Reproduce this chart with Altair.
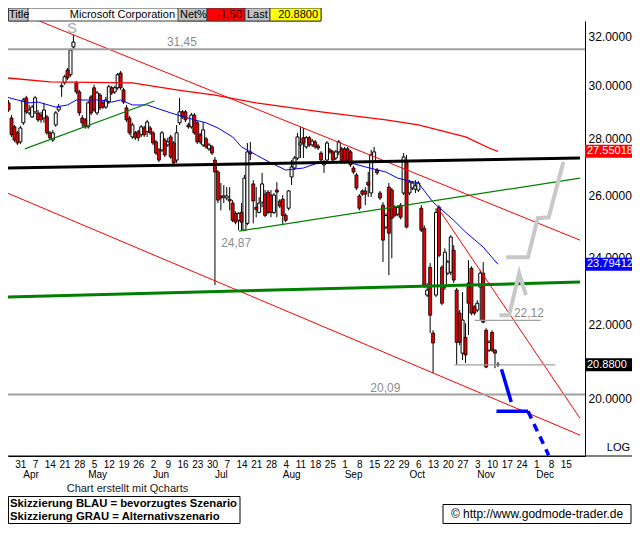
import json
import altair as alt
import pandas as pd

FONT = "Liberation Sans, Arial, Helvetica, sans-serif"

# ---------------- data ----------------
FIRST_INDEX = -4   # trading-day index; 0 = Mon 31 Mar 2008

opens = [29.34, 28.77, 28.44, 28.22, 27.89, 28.59, 29.53, 28.96, 28.81, 29.00,
         28.96, 28.88, 28.77, 28.81, 28.22, 27.96, 28.51, 29.07, 29.96, 30.11,
         30.62, 30.43, 31.55, 30.11, 29.76, 28.77, 28.70, 28.44, 29.57, 29.92,
         28.96, 29.64, 29.34, 29.18, 29.37, 29.92, 29.76, 29.92, 30.50, 29.84,
         29.15, 28.77, 28.07, 28.22, 28.26, 28.15, 28.40, 28.26, 28.40, 28.22,
         27.89, 27.60, 27.60, 27.96, 27.78, 28.07, 27.85, 27.24, 28.59, 29.00,
         29.00, 28.51, 28.44, 28.88, 28.59, 28.15, 27.78, 28.00, 27.64, 27.71,
         27.24, 26.82, 26.00, 25.96, 25.93, 25.89, 25.76, 25.42, 25.19, 25.45,
         24.87, 25.09, 27.53, 26.41, 25.62, 25.45, 25.79, 26.06, 26.13, 26.03,
         25.45, 26.20, 25.83, 25.89, 25.35, 25.59, 26.65, 26.96, 27.31, 27.78,
         28.04, 27.71, 28.04, 27.78, 27.89, 27.74, 27.49, 27.07, 27.24, 27.60,
         27.53, 27.31, 27.53, 27.64, 27.64, 27.64, 27.53, 26.96, 26.72, 26.00,
         26.17, 26.17, 26.47, 26.10, 27.17, 26.89, 26.10, 25.69, 24.97, 26.30,
         26.20, 25.62, 25.39, 25.69, 26.10, 27.17, 26.10, 26.27, 26.23, 26.20,
         25.59, 24.93, 22.86, 23.70, 21.76, 22.86, 25.62, 23.70, 23.10, 23.52,
         23.55, 24.23, 23.01, 22.33, 21.20, 21.64, 23.22, 23.67, 22.51, 22.42,
         23.10, 23.52, 21.84, 21.28, 21.78, 21.28, 20.90]

highs = [29.45, 28.88, 28.51, 28.29, 28.48, 29.53, 29.61, 29.26, 29.26, 29.61,
         29.07, 29.00, 29.34, 28.88, 28.29, 28.33, 29.03, 29.30, 30.11, 30.43,
         30.70, 31.50, 32.04, 30.19, 29.84, 28.88, 28.77, 29.41, 29.64, 30.04,
         29.80, 29.72, 29.45, 29.57, 30.04, 30.00, 30.00, 30.50, 30.58, 29.92,
         29.26, 28.85, 28.59, 28.29, 28.33, 28.51, 28.48, 28.70, 28.48, 28.29,
         27.96, 27.67, 28.29, 28.04, 28.04, 28.15, 27.92, 28.51, 29.53, 29.07,
         29.07, 28.59, 28.96, 28.96, 28.66, 28.22, 28.62, 28.07, 27.85, 27.78,
         27.35, 26.89, 26.44, 26.37, 26.30, 26.30, 25.86, 25.49, 25.45, 25.76,
         26.72, 27.85, 27.89, 26.54, 26.30, 25.96, 26.79, 26.20, 26.20, 26.20,
         26.10, 26.47, 25.89, 26.03, 25.42, 26.20, 27.24, 27.38, 28.22, 28.44,
         28.40, 28.11, 28.11, 28.00, 27.96, 27.81, 27.56, 27.24, 27.92, 27.67,
         27.60, 27.60, 27.96, 27.71, 27.71, 27.71, 27.60, 27.03, 26.79, 26.06,
         26.23, 26.30, 26.82, 27.60, 27.71, 26.96, 26.17, 25.79, 25.42, 26.44,
         26.27, 25.69, 25.69, 25.76, 27.49, 27.42, 26.54, 26.51, 26.54, 26.51,
         25.69, 25.03, 23.22, 23.83, 21.84, 25.59, 25.69, 23.76, 24.29, 23.92,
         24.71, 24.39, 23.07, 22.42, 22.95, 22.04, 23.92, 23.73, 22.56, 22.71,
         23.61, 23.86, 21.90, 21.56, 21.84, 21.31, 20.96]

lows = [29.00, 28.07, 27.89, 27.78, 27.81, 28.51, 28.92, 28.88, 28.77, 28.92,
        28.62, 28.59, 28.59, 28.15, 27.96, 27.89, 28.44, 29.00, 29.57, 30.04,
        30.23, 30.35, 31.42, 29.68, 28.85, 28.44, 28.37, 28.37, 28.88, 29.00,
        28.88, 29.07, 29.11, 29.11, 29.30, 29.64, 29.68, 29.84, 29.84, 29.30,
        28.62, 28.15, 28.00, 27.96, 27.92, 28.07, 28.07, 28.07, 28.15, 27.78,
        27.42, 27.17, 27.53, 27.35, 27.71, 27.28, 27.07, 27.14, 28.51, 28.74,
        28.62, 28.37, 28.37, 28.15, 27.81, 27.81, 27.71, 27.64, 27.56, 27.42,
        23.16, 25.76, 25.52, 25.76, 25.86, 25.52, 25.13, 25.06, 24.87, 24.87,
        24.84, 25.03, 27.24, 25.09, 25.29, 25.42, 25.62, 25.29, 25.39, 25.29,
        25.39, 25.29, 25.59, 25.03, 25.13, 25.52, 26.37, 26.89, 27.24, 27.31,
        27.31, 27.64, 27.71, 27.71, 27.64, 27.60, 27.17, 26.79, 27.17, 27.46,
        27.17, 27.24, 27.42, 27.10, 27.10, 27.17, 27.00, 26.75, 26.20, 25.52,
        26.00, 25.69, 25.96, 25.96, 27.14, 26.72, 25.86, 23.86, 24.90, 23.46,
        23.98, 25.29, 25.32, 25.22, 26.03, 24.93, 26.03, 26.20, 26.10, 26.13,
        24.81, 23.07, 22.80, 21.76, 20.66, 22.80, 24.01, 22.56, 23.01, 23.46,
        23.46, 23.22, 20.88, 21.42, 21.01, 20.93, 21.70, 22.27, 22.27, 22.36,
        22.13, 22.04, 20.79, 21.23, 21.23, 20.79, 20.82]

closes = [29.07, 28.15, 27.96, 27.85, 28.40, 29.45, 29.00, 29.07, 29.18, 29.53,
          28.70, 28.70, 29.07, 28.22, 28.04, 28.22, 28.96, 29.18, 30.00, 30.35,
          30.31, 31.42, 31.75, 29.76, 28.96, 28.59, 28.44, 29.34, 28.96, 29.07,
          29.72, 29.15, 29.18, 29.45, 29.96, 29.72, 29.92, 30.43, 29.92, 29.37,
          28.70, 28.22, 28.51, 28.04, 28.04, 28.44, 28.15, 28.62, 28.22, 27.85,
          27.49, 27.24, 28.22, 27.42, 27.89, 27.35, 27.14, 28.22, 29.00, 28.81,
          28.70, 28.44, 28.88, 28.22, 27.89, 27.89, 28.33, 27.71, 27.78, 27.49,
          26.82, 25.86, 25.93, 26.00, 26.00, 25.83, 25.19, 25.13, 25.42, 25.13,
          26.61, 27.53, 27.46, 25.83, 25.55, 25.76, 26.41, 25.35, 25.45, 25.45,
          26.03, 26.13, 25.66, 25.35, 25.19, 26.17, 27.00, 27.31, 28.07, 27.85,
          27.85, 28.04, 27.78, 27.92, 27.71, 27.67, 27.24, 27.17, 27.85, 27.53,
          27.24, 27.53, 27.89, 27.17, 27.17, 27.24, 27.07, 26.82, 26.27, 25.59,
          26.06, 26.06, 26.37, 27.42, 27.53, 26.79, 25.93, 24.55, 25.35, 24.77,
          25.26, 25.35, 25.62, 25.29, 27.35, 24.97, 26.47, 26.44, 26.34, 26.44,
          24.87, 23.16, 23.01, 22.27, 21.48, 25.45, 24.07, 22.62, 24.17, 23.86,
          24.65, 23.31, 21.50, 21.50, 22.13, 21.15, 22.62, 22.33, 22.33, 22.62,
          23.52, 22.07, 20.82, 21.50, 21.28, 21.20, 20.88]

# moving averages (index, value)
red_ma_index = [-5, 10, 38, 53, 66, 80, 102, 124, 135, 151, 159, 162]
red_ma_values = [30.31, 30.15, 30.11, 29.84, 29.64, 29.34, 29.00, 28.70, 28.51, 28.07, 27.67, 27.55018]

blue_ma_index = [-5, -1, 3, 6, 12, 16, 19, 27, 31, 34, 38, 43, 51, 59, 63, 67, 72, 75, 80,
                 85, 90, 96, 101, 107, 112, 117, 124, 128, 135, 140, 147, 151, 157, 162]
blue_ma_values = [29.57, 29.45, 29.34, 29.37, 29.18, 29.26, 29.45, 29.45, 29.37, 29.45,
                  29.26, 29.26, 28.96, 28.70, 28.59, 28.40, 28.07, 27.71, 27.42, 27.14,
                  26.89, 26.96, 27.14, 27.17, 27.14, 27.00, 26.82, 26.61, 26.44, 25.79,
                  25.19, 24.81, 24.33, 23.79412]

# trend lines: list of (index, price) end points
red_trend = [[(1.5, 32.88), (189.83, 24.55)],
             [(-5.17, 26.13), (189.83, 19.06)],
             [(141.5, 25.62), (189.83, 19.48)]]
green_thin_trend = [[(1.5, 27.64), (45.5, 29.41)],
                    [(74.2, 24.84), (189.83, 26.61)]]
black_trend = [[(-5.17, 26.96), (189.83, 27.31)]]
green_thick_trend = [[(-5.17, 22.80), (189.83, 23.25)]]

# scenario sketches
blue_solid = [[(163.2, 20.76), (166.5, 19.90)],
              [(161.5, 19.66), (172.2, 19.66)]]
blue_dashed = [[(172.2, 19.66), (179.2, 18.57)]]
grey_paths = [[(162.5, 22.27), (165.8, 22.27), (169.2, 23.52), (171.5, 22.86)],
              [(164.8, 24.01), (172.2, 24.01), (175.5, 25.26), (179.2, 25.29), (184.2, 27.17)]]

# horizontal levels
full_levels = [31.45, 20.09]
short_level_start = [154.2, 147.2]
short_level_end = [176.5, 181.5]
short_level_values = [22.12, 20.88]

# annotations: text, index, price, vertical offset
annotations = [("31,45", 54.8, 31.45, -7), ("20,09", 123.8, 20.09, -7),
               ("22,12", 172.5, 22.12, -7), ("24,87", 73.2, 24.87, 13)]

# price tags
tag_values = [27.55018, 23.79412, 20.88]
tag_labels = ["27.55018", "23.79412", "20.8800"]

# x axis
week_labels = ["31", "7", "14", "21", "28", "5", "12", "19", "26", "2", "9", "16", "23",
               "30", "7", "14", "21", "28", "4", "11", "18", "25", "1", "8", "15", "22",
               "29", "6", "13", "20", "27", "3", "10", "17", "24", "1", "8", "15"]
month_names = ["Apr", "May", "Jun", "Jul", "Aug", "Sep", "Oct", "Nov", "Dec"]
month_index = [1, 23, 45, 66, 89, 110, 132, 155, 175]
y_ticks = [20, 22, 24, 26, 28, 30, 32]

# ---------------- layout ----------------
W, H = 577, 435
X_MIN, X_MAX = -2.5, 189.833
Y_MIN, Y_MAX = 18.55, 32.63

xs = alt.Scale(domain=[X_MIN, X_MAX], nice=False, zero=False)
ys = alt.Scale(type="log", domain=[Y_MIN, Y_MAX], nice=False)

label_expr = json.dumps(week_labels) + "[round(datum.value / 5)]"
x_axis = alt.Axis(values=list(range(0, 186, 5)), labelExpr=label_expr, title=None,
                  grid=False, ticks=False, domain=True, domainColor="black",
                  labelFontSize=10, labelFont=FONT, labelColor="black", labelPadding=3,
                  labelOverlap=False, labelFlush=False, labelBound=False)
y_axis = alt.Axis(orient="right", values=y_ticks, format=".4f", title=None, grid=False,
                  ticks=False, domain=True, domainColor="black", labelFontSize=12,
                  labelFont=FONT, labelColor="black", labelPadding=3,
                  labelOverlap=False, labelFlush=False)


def X(f):
    return alt.X(f"{f}:Q", scale=xs, axis=x_axis, title=None)


def Y(f):
    return alt.Y(f"{f}:Q", scale=ys, axis=y_axis, title=None)


ONE = alt.Data(values=[{}])


def rect(x0, x1, y0, y1, fill, stroke=None):
    kw = dict(fill=fill)
    if stroke:
        kw.update(stroke=stroke, strokeWidth=1)
    return alt.Chart(ONE).mark_rect(**kw).encode(
        x=alt.value(x0), x2=alt.value(x1), y=alt.value(y0), y2=alt.value(y1))


def label(text, x, y, size=11, align="left", color="black", weight="normal"):
    return alt.Chart(ONE).mark_text(text=text, align=align, baseline="middle",
                                    fontSize=size, font=FONT, color=color,
                                    fontWeight=weight).encode(x=alt.value(x), y=alt.value(y))


def paths(segs, color, width, dash=None):
    rows = []
    for k, pts in enumerate(segs):
        for j, (ii, vv) in enumerate(pts):
            rows.append({"seg": k, "o": j, "i": ii, "v": vv})
    kw = dict(color=color, strokeWidth=width, clip=True)
    if dash:
        kw["strokeDash"] = dash
    return alt.Chart(pd.DataFrame(rows)).mark_line(**kw).encode(
        x=X("i"), y=Y("v"), detail="seg:N", order="o:Q")


layers = []

# header bar
layers.append(rect(0.5, 313, -13, 0, "white", "#404040"))
for x0, x1, col in [(0.5, 20, "#c0c0c0"), (170, 199, "#c0c0c0"), (199, 237, "#ff0000"),
                    (237, 262, "#c0c0c0"), (262, 313, "#ffff00")]:
    layers.append(rect(x0, x1, -13, 0, col, "#404040"))
for t, x, al in [("Title", 1, "left"), ("Microsoft Corporation", 167, "right"),
                 ("Net%", 172, "left"), ("-1.50", 234, "right"), ("Last", 239, "left"),
                 ("20.8800", 310, "right")]:
    layers.append(label(t, x, -6.5, 11, al))

# candles
n = len(opens)
df = pd.DataFrame({"i": list(range(FIRST_INDEX, FIRST_INDEX + n)), "open": opens,
                   "high": highs, "low": lows, "close": closes})
up = df[df["close"] >= df["open"]]
down = df[df["close"] < df["open"]]
layers.append(alt.Chart(df).mark_rule(color="black", strokeWidth=1, clip=True).encode(
    x=X("i"), y=Y("low"), y2=alt.Y2("high")))
layers.append(alt.Chart(up).mark_bar(size=3, fill="white", stroke="black", strokeWidth=1,
                                     clip=True).encode(x=X("i"), y=Y("open"), y2=alt.Y2("close")))
layers.append(alt.Chart(down).mark_bar(size=3, fill="#e00000", stroke="black", strokeWidth=0.8,
                                       clip=True).encode(x=X("i"), y=Y("open"), y2=alt.Y2("close")))

# moving averages
layers.append(alt.Chart(pd.DataFrame({"i": red_ma_index, "v": red_ma_values})).mark_line(
    color="#ff0000", strokeWidth=1.3, clip=True).encode(x=X("i"), y=Y("v")))
layers.append(alt.Chart(pd.DataFrame({"i": blue_ma_index, "v": blue_ma_values})).mark_line(
    color="#0000ff", strokeWidth=1, clip=True).encode(x=X("i"), y=Y("v")))

# trend lines
layers.append(paths(red_trend, "#ff0000", 1))
layers.append(paths(green_thin_trend, "#008000", 1.2))
layers.append(paths(black_trend, "black", 3))
layers.append(paths(green_thick_trend, "#008000", 3))

# horizontal levels
layers.append(alt.Chart(pd.DataFrame({"v": full_levels})).mark_rule(
    color="#a0a0a0", strokeWidth=2, clip=True).encode(y=Y("v"), x=alt.value(0), x2=alt.value(W)))
layers.append(alt.Chart(pd.DataFrame({"i1": short_level_start, "i2": short_level_end,
                                      "v": short_level_values})).mark_rule(
    color="#a0a0a0", strokeWidth=1.2, clip=True).encode(x=X("i1"), x2=alt.X2("i2"), y=Y("v")))

# scenario sketches
layers.append(paths(grey_paths, "#c8c8c8", 4))
layers.append(paths(blue_solid, "#0000ff", 3.5))
layers.append(paths(blue_dashed, "#0000ff", 3.5, dash=[8, 6]))

# annotations
for t, ii, vv, dy in annotations:
    layers.append(alt.Chart(pd.DataFrame({"i": [ii], "v": [vv], "t": [t]})).mark_text(
        align="center", baseline="middle", dy=dy, fontSize=12, font=FONT, color="#8c8c8c"
    ).encode(x=X("i"), y=Y("v"), text="t:N"))
layers.append(alt.Chart(pd.DataFrame({"i": [17.5], "v": [32.04], "t": ["S"]})).mark_text(
    align="center", baseline="middle", dy=-7, fontSize=15, font=FONT, color="#a8a8a8"
).encode(x=X("i"), y=Y("v"), text="t:N"))

# price tags on the right
for vv, t, col in zip(tag_values, tag_labels, ["#ff0000", "#0000ff", "black"]):
    d = pd.DataFrame({"v": [vv], "t": [t]})
    layers.append(alt.Chart(d).mark_rule(color=col, strokeWidth=13).encode(
        y=Y("v"), x=alt.value(W), x2=alt.value(W + 48)))
    layers.append(alt.Chart(d).mark_text(align="left", baseline="middle", fontSize=11,
                                         font=FONT, color="white").encode(
        y=Y("v"), x=alt.value(W + 2), text="t:N"))

# bottom axis line across full width, LOG, months
layers.append(alt.Chart(ONE).mark_rule(color="black", strokeWidth=1).encode(
    x=alt.value(0), x2=alt.value(W + 47), y=alt.value(H)))
layers.append(label("LOG", W + 45, H - 8, 11, "right"))
layers.append(alt.Chart(pd.DataFrame({"i": month_index, "m": month_names})).mark_text(
    align="left", baseline="middle", fontSize=10, font=FONT, color="black").encode(
    x=X("i"), y=alt.value(H + 19), text="m:N"))

# footer
layers.append(label("Chart erstellt mit Qcharts", 119.5, H + 33, 11, "center", "#202020"))
layers.append(rect(0.5, 232, H + 40.5, H + 67.5, "white", "black"))
layers.append(label("Skizzierung BLAU = bevorzugtes Szenario", 2, H + 47.5, 11.3, "left",
                    "black", "bold"))
layers.append(label("Skizzierung GRAU = Alternativszenario", 2, H + 61, 11.3, "left",
                    "black", "bold"))
layers.append(rect(435, 623, H + 48.5, H + 67.5, "white", "black"))
layers.append(label("\u00a9 http://www.godmode-trader.de", 529, H + 58, 12, "center"))

chart = alt.layer(*layers).properties(
    width=W, height=H,
    padding={"left": 0, "top": 13, "right": 47, "bottom": 68},
    autosize=alt.AutoSizeParams(type="none"),
).configure_view(stroke=None)

chart.save("out.html", embed_options={"renderer": "svg", "actions": False})
